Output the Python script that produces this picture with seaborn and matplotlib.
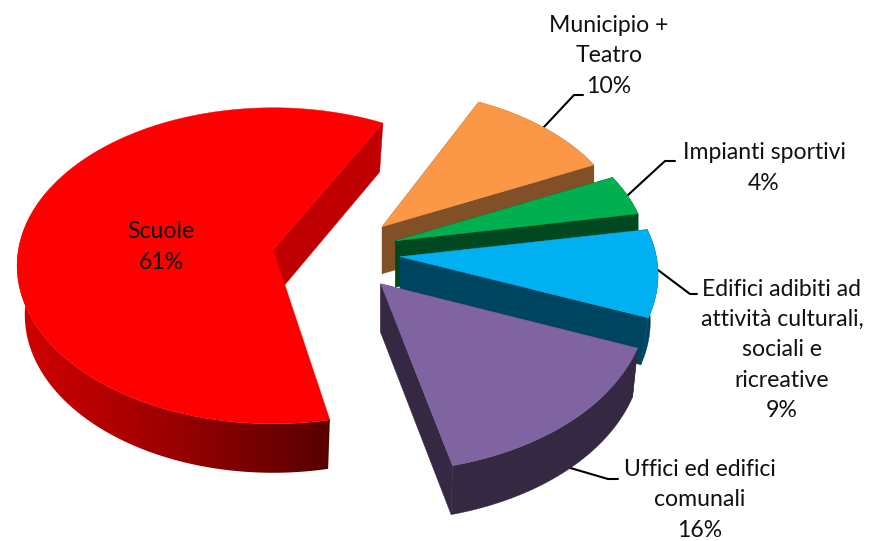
import matplotlib
matplotlib.use("Agg", force=True)
import matplotlib.pyplot as plt
import numpy as np
import seaborn as sns
from matplotlib.patches import Polygon

# slices, clockwise
categories = ["Scuole", "Municipio +\nTeatro", "Impianti sportivi",
              "Edifici adibiti ad\nattività culturali,\nsociali e\nricreative",
              "Uffici ed edifici\ncomunali"]
values = [61, 10, 4, 9, 16]

top_colors = ["#ff0000", "#fb9847", "#00b050", "#00b0f0", "#8064a2"]
side_colors = ["#c00000", "#825026", "#00481f", "#00455f", "#352842"]

# fake 3d geometry, in pixels of the output
START_ANGLE = 163.4
CENTER = (348, 257)
TILT = 0.77
explode = [75, 52, 52, 52, 46]
lift = [-4, 0, 0, 0, 2]
radius_x = [256, 247, 253, 258, 267]
radius_y = [158, 155, 158, 158, 170]
arc_drop = [16, 18, 18, 18, 18]
depth = [49, 47, 46, 47, 49]
# lower edge of the rim is a bit narrower than the top face
rim_shrink = [0.97, 1, 1, 0.97, 0.98]
# the perspective squeezes some angles a little
start_trim = [3.8, 0, 0, 0, 0]
end_trim = [2.4, 0, 0, 0, 1]

label_pos = [(161, 247), (609, 56), (764, 168), (782, 350), (700, 500)]
leaders = [
    None,
    [(544, 127), (574, 95), (583, 95)],
    [(628, 195), (665, 161), (675, 161)],
    [(658, 270), (690, 294), (697, 294)],
    [(567, 467), (608, 479), (618, 479)],
]


def draw_slice(ax, i, start, span):
    mid = np.radians(start + span / 2)
    ax_x = CENTER[0] + explode[i] * np.sin(mid)
    ax_y = CENTER[1] - TILT * explode[i] * np.cos(mid) + lift[i]
    t = np.radians(np.linspace(start + start_trim[i], start + span + end_trim[i], 240))
    arc_x = ax_x + radius_x[i] * np.sin(t)
    arc_y = ax_y + arc_drop[i] - radius_y[i] * np.cos(t)
    low_x = ax_x + (arc_x - ax_x) * rim_shrink[i]
    low_y = arc_y + depth[i]
    z = i * 3

    # outer rim
    if i == 0:
        # big slice has a horizontal gradient, front half only
        front = t <= np.radians(300)
        rim = Polygon(np.c_[np.r_[arc_x[front], low_x[front][::-1]],
                            np.r_[arc_y[front], low_y[front][::-1]]],
                      transform=ax.transData, fc="none", ec="none")
        ax.add_patch(rim)
        ramp = sns.blend_palette(["#d20000", "#9a0000", "#560000"], as_cmap=True)
        im = ax.imshow(np.linspace(0, 1, 256)[None, :], cmap=ramp, aspect="auto",
                       extent=(arc_x.min(), arc_x[0], 541, 0), zorder=z + 1)
        im.set_clip_path(rim)
    else:
        ax.fill(np.r_[arc_x, low_x[::-1]], np.r_[arc_y, low_y[::-1]],
                color=side_colors[i], lw=0.3, zorder=z + 1)

    # flat cut faces (the first edge of the big slice is hidden by its top)
    for k in ((-1,) if i == 0 else (0, -1)):
        ax.fill([ax_x, arc_x[k], low_x[k], ax_x],
                [ax_y, arc_y[k], low_y[k], ax_y + depth[i]],
                color=side_colors[i], lw=0.3, zorder=z + 2)

    ax.fill(np.r_[ax_x, arc_x], np.r_[ax_y, arc_y], color=top_colors[i], lw=0.3,
            zorder=z + 3)


def main():
    sns.set_theme(style="white")
    plt.rcParams["font.family"] = ["Lato", "DejaVu Sans"]

    fig = plt.figure(figsize=(8.73, 5.41), dpi=100)
    ax = fig.add_axes([0, 0, 1, 1])
    ax.axis("off")

    spans = np.array(values) / sum(values) * 360
    starts = START_ANGLE + np.r_[0, np.cumsum(spans)[:-1]]
    for i in range(len(values)):
        draw_slice(ax, i, starts[i], spans[i])

    for path in leaders:
        if path:
            xs, ys = zip(*path)
            ax.plot(xs, ys, color="black", lw=1.5, zorder=0)

    for name, value, (x, y) in zip(categories, values, label_pos):
        ax.text(x, y, f"{name}\n{value}%", ha="center", va="center", fontsize=16.6,
                linespacing=1.55, color="#111111", zorder=30)

    ax.set_xlim(0, 873)
    ax.set_ylim(541, 0)
    fig.savefig("out.png", dpi=100)
    plt.close(fig)


if __name__ == "__main__":
    main()
